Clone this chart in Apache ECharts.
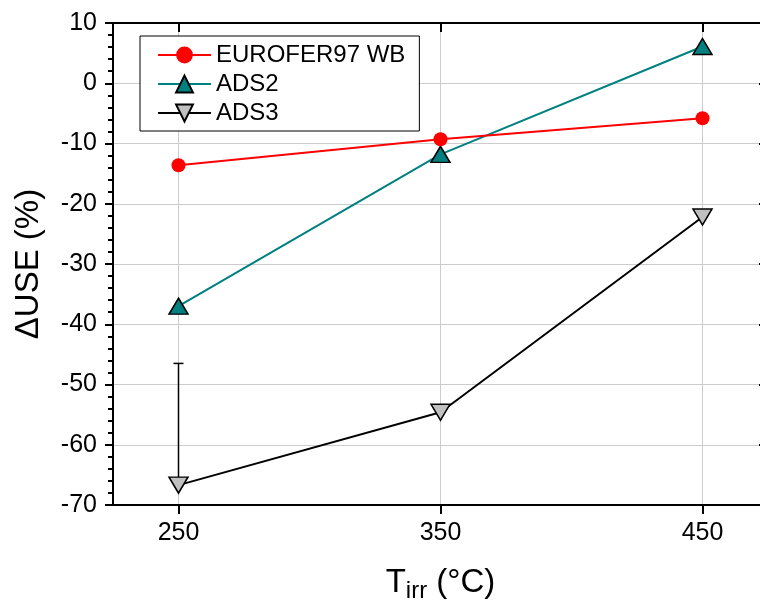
<!DOCTYPE html>
<html>
<head>
<meta charset="utf-8">
<script src="https://cdn.jsdelivr.net/npm/echarts@6/dist/echarts.min.js"></script>
<style>html,body{margin:0;padding:0;background:#fff}#c{width:760px;height:606px}</style>
</head>
<body>
<div id="c"></div>
<script>
var temps = [250, 350, 450];
var xTicks = [250, 350, 450];
var eurofer = [-13.6, -9.3, -5.8];
var ads2 = [-37.0, -11.8, 6.1];
var ads3 = [-66.7, -54.6, -22.2];
var ads3ErrTop = [-46.5, null, null];

var FONT = '"Liberation Sans", Arial, sans-serif';
var chart = echarts.init(document.getElementById('c'));

function pairs(ys){ return temps.map(function(t,i){ return [t, ys[i]]; }); }
var errData = [];
temps.forEach(function(t,i){ if (ads3ErrTop[i] != null) errData.push([t, ads3[i], ads3ErrTop[i]]); });

var option = {
  animation: false,
  backgroundColor: '#fff',
  grid: { left: 113, top: 23, width: 655, bottom: 101, containLabel: false, outerBoundsMode: 'none' },
  legend: {
    orient: 'vertical', left: 140, top: 36,
    padding: [7, 14, 6, 17],
    itemWidth: 53, itemHeight: 21, itemGap: 5,
    borderColor: '#000', borderWidth: 1, backgroundColor: '#fff',
    textStyle: { fontFamily: FONT, fontSize: 24, color: '#000', padding: [0,0,0,0] },
    data: ['EUROFER97 WB', 'ADS2', 'ADS3']
  },
  xAxis: [{
    type: 'value', min: 225, max: 475, position: 'bottom',
    axisLine: { show: true, onZero: false, lineStyle: { color: '#000', width: 2 } },
    axisTick: { show: true, inside: false, length: 9, customValues: xTicks, lineStyle: { color: '#000', width: 2 } },
    axisLabel: { customValues: xTicks, fontFamily: FONT, fontSize: 25, color: '#000', margin: 16 },
    splitLine: { show: true, lineStyle: { color: '#cccccc', width: 1 } },
    name: '{t|T}{s|irr}{t| (°C)}', nameLocation: 'middle', nameGap: 58,
    nameTextStyle: { rich: {
      t: { fontFamily: FONT, fontSize: 33, color: '#000' },
      s: { fontFamily: FONT, fontSize: 24, color: '#000', padding: [16, 0, 0, 0], verticalAlign: 'bottom' }
    } }
  }, {
    type: 'value', min: 225, max: 475, position: 'top',
    axisLine: { show: true, onZero: false, lineStyle: { color: '#000', width: 2 } },
    axisTick: { show: true, inside: true, length: 9, customValues: xTicks, lineStyle: { color: '#000', width: 2 } },
    axisLabel: { show: false },
    splitLine: { show: false }
  }],
  yAxis: [{
    type: 'value', min: -70, max: 10, interval: 10, position: 'left',
    axisLine: { show: true, onZero: false, lineStyle: { color: '#000', width: 2 } },
    axisTick: { show: true, inside: false, length: 8, lineStyle: { color: '#000', width: 2 } },
    minorTick: { show: true, splitNumber: 5, length: 5, lineStyle: { color: '#000', width: 2 } },
    axisLabel: { fontFamily: FONT, fontSize: 25, color: '#000', margin: 16 },
    splitLine: { show: true, lineStyle: { color: '#cccccc', width: 1 } },
    name: 'ΔUSE (%)', nameLocation: 'middle', nameGap: 68, nameRotate: 90,
    nameTextStyle: { fontFamily: FONT, fontSize: 33, color: '#000' }
  }, {
    type: 'value', min: -70, max: 10, interval: 10, position: 'right',
    axisLine: { show: true, onZero: false, lineStyle: { color: '#000', width: 2 } },
    axisTick: { show: true, inside: true, length: 9, lineStyle: { color: '#000', width: 2 } },
    axisLabel: { show: false },
    splitLine: { show: false }
  }],
  series: [{
    name: 'EUROFER97 WB', type: 'line', data: pairs(eurofer),
    symbol: 'circle', symbolSize: 14,
    lineStyle: { color: '#ff0000', width: 2 },
    itemStyle: { color: '#ff0000', borderColor: '#ff0000', borderWidth: 0 },
    z: 4
  }, {
    name: 'ADS2', type: 'line', data: pairs(ads2),
    symbol: 'triangle', symbolSize: [19, 16],
    lineStyle: { color: '#008080', width: 2 },
    itemStyle: { color: '#008080', borderColor: '#000', borderWidth: 1.5 },
    z: 3
  }, {
    name: 'ADS3', type: 'line', data: pairs(ads3),
    symbol: 'path://M0,0 L20,0 L10,17 Z', symbolSize: [19, 16],
    lineStyle: { color: '#000', width: 2 },
    itemStyle: { color: '#c0c0c0', borderColor: '#000', borderWidth: 1.5 },
    z: 3
  }, {
    type: 'custom', name: 'err',
    data: errData,
    z: 2,
    renderItem: function(params, api){
      var x = api.value(0);
      var p0 = api.coord([x, api.value(1)]);
      var p1 = api.coord([x, api.value(2)]);
      return { type: 'group', children: [
        { type: 'line', shape: { x1: p0[0], y1: p0[1], x2: p1[0], y2: p1[1] }, style: { stroke: '#000', lineWidth: 1.5 } },
        { type: 'line', shape: { x1: p1[0]-5, y1: p1[1], x2: p1[0]+5, y2: p1[1] }, style: { stroke: '#000', lineWidth: 1.5 } }
      ]};
    }
  }]
};
chart.setOption(option);
</script>
</body>
</html>
